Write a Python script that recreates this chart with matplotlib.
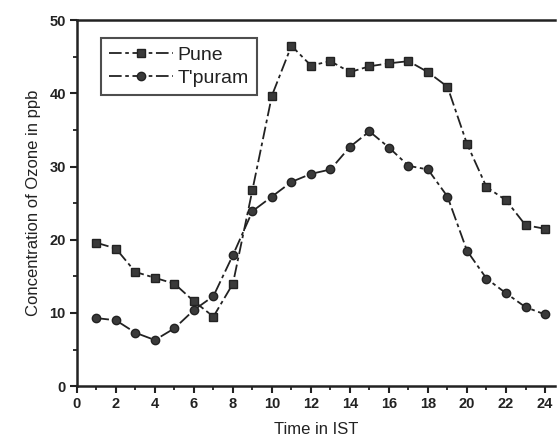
import matplotlib
matplotlib.use("Agg")
import matplotlib.pyplot as plt
from matplotlib.ticker import MultipleLocator

hours = list(range(1, 25))
pune = [19.6, 18.8, 15.6, 14.8, 14.0, 11.6, 9.5, 14.0, 26.8, 39.7, 46.5, 43.8,
        44.4, 42.9, 43.7, 44.1, 44.4, 42.9, 40.9, 33.1, 27.2, 25.4, 22.0, 21.5]
tpuram = [9.3, 9.0, 7.3, 6.3, 7.9, 10.4, 12.3, 17.9, 23.9, 25.9, 27.9, 29.0,
          29.6, 32.7, 34.8, 32.6, 30.1, 29.6, 25.9, 18.5, 14.7, 12.7, 10.8, 9.8]
series_names = ["Pune", "T'puram"]
xticks = list(range(0, 25, 2))
yticks = [0, 10, 20, 30, 40, 50]

plt.rcParams['font.family'] = ['Liberation Sans', 'DejaVu Sans']
fig = plt.figure(figsize=(5.57, 4.48), dpi=100)
ax = fig.add_axes([0.138, 0.138, 0.858, 0.817])

c = '#222222'
ls = (0, (7, 2, 2, 2))
ax.plot(hours, pune, color=c, lw=1.3, linestyle=ls, marker='s', ms=5.5,
        mfc='#3a3a3a', mec=c, label=series_names[0])
ax.plot(hours, tpuram, color=c, lw=1.3, linestyle=ls, marker='o', ms=6,
        mfc='#3a3a3a', mec=c, label=series_names[1])

ax.set_xlim(0, 24.5)
ax.set_ylim(0, 50)
ax.set_xticks(xticks)
ax.set_yticks(yticks)
ax.xaxis.set_minor_locator(MultipleLocator(1))
ax.yaxis.set_minor_locator(MultipleLocator(5))
ax.spines['right'].set_visible(False)
for s in ['left', 'bottom', 'top']:
    ax.spines[s].set_linewidth(1.8)
    ax.spines[s].set_color(c)
ax.tick_params(which='major', direction='out', length=5, width=1.5, colors=c,
               labelsize=10.5, pad=3)
for lab in ax.get_xticklabels() + ax.get_yticklabels():
    lab.set_fontweight('bold')
ax.tick_params(which='minor', direction='out', length=3, width=1.3, colors=c)
ax.tick_params(axis='x', top=False, which='both')

ax.set_xlabel("Time in IST", fontsize=12, color=c, labelpad=8)
ax.set_ylabel("Concentration of Ozone in ppb", fontsize=12, color=c, labelpad=6)

leg = ax.legend(loc='upper left', bbox_to_anchor=(0.05, 0.95), fontsize=14,
                frameon=True, fancybox=False, edgecolor=c, handlelength=3.3,
                handletextpad=0.25, borderpad=0.4, labelspacing=0.3,
                borderaxespad=0)
leg.get_frame().set_linewidth(1.5)
for t in leg.get_texts():
    t.set_color(c)

fig.savefig("out.png", dpi=100)
